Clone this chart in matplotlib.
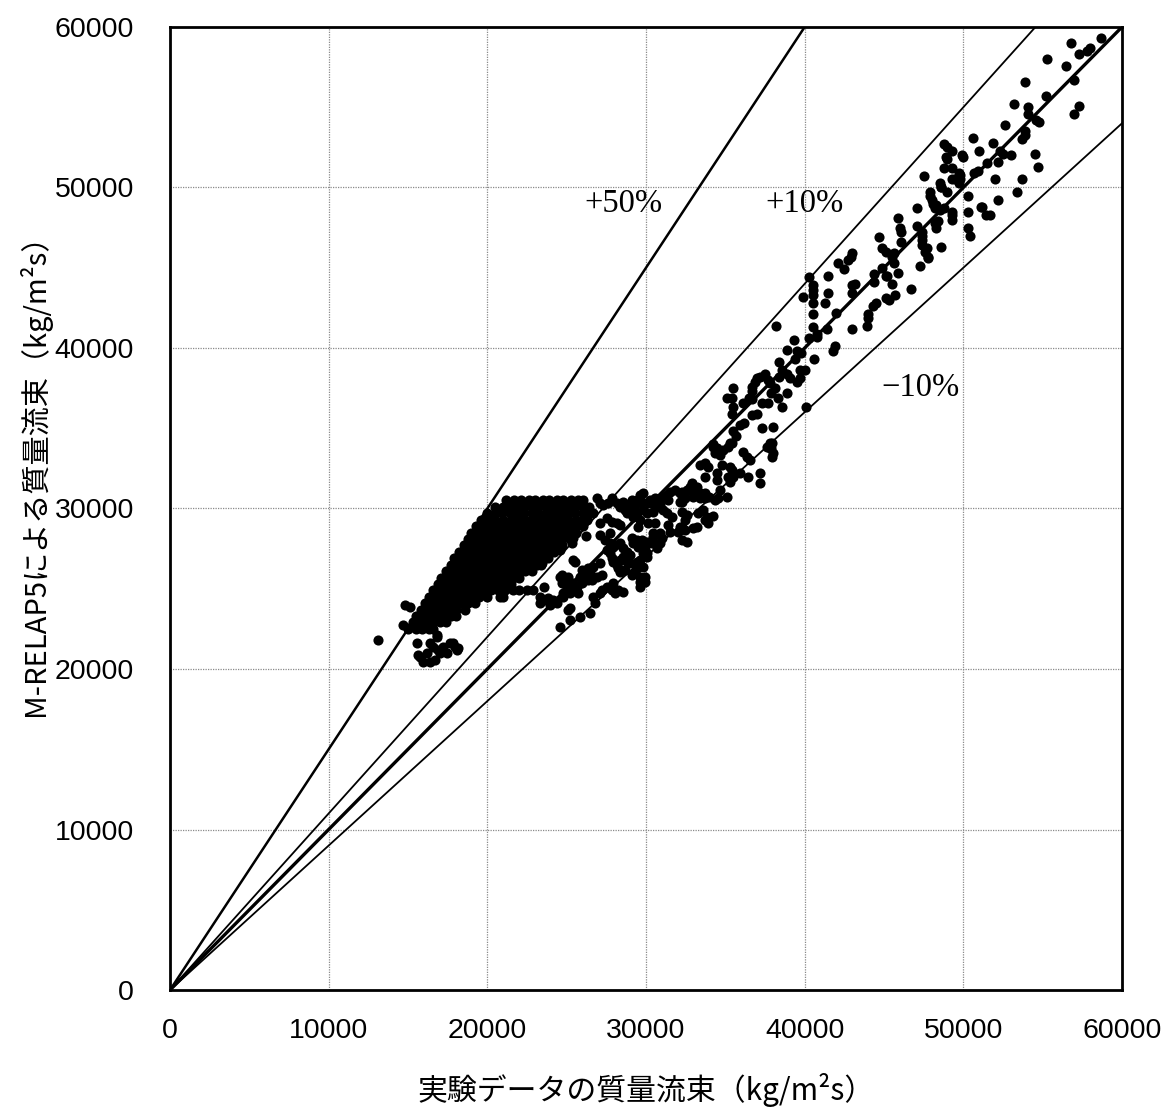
import matplotlib
matplotlib.use("Agg")
import matplotlib.pyplot as plt
import numpy as np

# ---------------- data (kg/m2s, values in thousands) ----------------
# dense cluster, listed row by row: calculated value of each row and experimental values on it
blob_row_calc = [30.5, 30.1, 29.7, 29.3, 28.9, 28.5, 28.1, 27.7, 27.3, 26.9, 26.5,
                 26.1, 25.7, 25.3, 24.9, 24.5, 24.1, 23.7, 23.3, 22.9, 22.5]
blob_row_exp = [
    [21.2, 21.7, 22.1, 22.6, 23.0, 23.5, 23.9, 24.4, 24.8, 25.3, 25.7, 26.0],
    [20.5, 21.0, 21.4, 21.9, 22.3, 22.8, 23.2, 23.7, 24.2, 24.6, 25.1, 25.5, 26.0, 26.4],
    [20.0, 20.5, 20.9, 21.4, 21.8, 22.3, 22.8, 23.2, 23.7, 24.1, 24.6, 25.0, 25.5, 26.0, 26.5],
    [19.6, 20.1, 20.5, 21.0, 21.5, 21.9, 22.4, 22.8, 23.3, 23.8, 24.2, 24.7, 25.1, 25.6, 26.0, 26.3],
    [19.3, 19.8, 20.2, 20.7, 21.1, 21.6, 22.1, 22.5, 23.0, 23.4, 23.9, 24.3, 24.8, 25.2, 25.6, 26.0],
    [19.0, 19.5, 19.9, 20.4, 20.8, 21.3, 21.8, 22.2, 22.7, 23.1, 23.6, 24.0, 24.5, 24.9, 25.3, 25.6],
    [18.8, 19.2, 19.7, 20.1, 20.6, 21.0, 21.5, 22.0, 22.4, 22.9, 23.3, 23.8, 24.2, 24.7, 25.2],
    [18.5, 18.9, 19.4, 19.8, 20.3, 20.8, 21.2, 21.7, 22.1, 22.6, 23.0, 23.5, 23.9, 24.3, 24.7],
    [18.2, 18.7, 19.1, 19.6, 20.0, 20.5, 20.9, 21.4, 21.9, 22.3, 22.8, 23.2, 23.7, 24.2],
    [17.9, 18.4, 18.8, 19.3, 19.7, 20.2, 20.6, 21.1, 21.6, 22.0, 22.5, 22.9, 23.4, 23.8],
    [17.7, 18.1, 18.6, 19.0, 19.5, 19.9, 20.4, 20.9, 21.3, 21.8, 22.2, 22.7, 23.1, 23.4],
    [17.4, 17.8, 18.3, 18.7, 19.2, 19.6, 20.1, 20.6, 21.0, 21.5, 21.9, 22.4, 22.8],
    [17.1, 17.6, 18.0, 18.5, 18.9, 19.4, 19.8, 20.3, 20.7, 21.2, 21.6, 22.0],
    [16.9, 17.3, 17.8, 18.2, 18.7, 19.1, 19.6, 20.0, 20.5, 21.0, 21.5],
    [16.6, 17.0, 17.5, 17.9, 18.4, 18.8, 19.3, 19.7, 20.2, 20.7, 21.1, 21.6, 22.0, 22.5, 22.9],
    [16.3, 16.8, 17.2, 17.7, 18.1, 18.6, 19.0, 19.5, 20.0, 20.8, 21.0],
    [16.1, 16.5, 17.0, 17.4, 17.9, 18.3, 18.8, 19.2],
    [15.8, 16.2, 16.7, 17.1, 17.6, 18.0, 18.6],
    [15.5, 16.0, 16.4, 16.9, 17.3, 17.7, 18.0],
    [15.3, 15.7, 16.2, 16.6, 17.0, 17.4],
    [15.0, 15.5, 15.9, 16.3, 16.6],
]
# extra points between rows of the cluster (irregular fill)
blob_fill_exp = [21.5, 22.9, 24.1, 25.4, 20.3, 22.0, 23.6, 25.0, 19.5, 21.2, 22.7, 24.4,
                 19.0, 20.5, 22.2, 23.8, 18.4, 20.0, 21.6, 23.1, 17.8, 19.4, 21.0, 22.6,
                 17.3, 18.9, 20.4, 16.8, 18.2, 19.8, 16.2, 17.6, 15.7, 16.9, 24.9, 26.2]
blob_fill_calc = [30.3, 30.3, 30.3, 30.3, 29.5, 29.5, 29.5, 29.5, 28.7, 28.7, 28.7, 28.7,
                  27.9, 27.9, 27.9, 27.9, 27.1, 27.1, 27.1, 27.1, 26.3, 26.3, 26.3, 26.3,
                  25.5, 25.5, 25.5, 24.7, 24.7, 24.7, 23.9, 23.9, 23.1, 23.1, 29.1, 28.3]

# low-flow tail and isolated points left of the cluster
low_exp = [15.55, 15.75, 15.95, 16.4, 16.55, 16.8, 16.9, 17.2, 17.45, 17.65, 17.95, 18.15,
           16.2, 16.7, 15.6, 16.4, 17.0, 17.85, 18.1, 16.8, 14.8, 15.1, 14.7, 15.0, 13.1]
low_calc = [21.6, 20.75, 20.45, 21.6, 21.35, 22.0, 21.2, 21.35, 21.0, 21.6, 21.35, 21.3,
            21.0, 20.55, 20.85, 20.45, 21.0, 21.6, 21.2, 22.1, 24.0, 23.85, 22.75, 22.55, 21.8]

# 23,000 - 35,000 range
mid_exp = [
    26.9, 27.3, 27.85, 27.6, 28.2, 28.55, 28.85, 29.1, 29.3, 29.6, 29.75, 30.25, 30.55, 31.0,
    31.3, 31.5, 31.4, 30.9, 31.8, 32.25, 32.45, 32.3, 32.9, 33.2, 32.95, 33.4, 33.7, 34.0,
    34.55, 35.1, 28.35, 28.8, 29.45, 29.8, 30.25, 26.65, 27.1,
    28.65, 29.0, 29.15, 29.45, 29.6, 29.5, 27.55, 27.85, 28.15, 28.35, 29.8, 30.05, 30.1,
    30.7, 30.45, 31.05, 31.3, 31.65, 32.3, 32.45, 33.25, 33.7, 33.9, 34.2, 31.4, 31.5, 32.0,
    32.15, 32.95, 30.9, 31.0, 30.9, 30.45, 30.35, 30.7, 32.3, 32.6, 29.95, 30.05, 27.1, 27.4,
    27.75, 28.05, 28.35, 29.1, 29.45, 29.75, 30.05, 28.55, 28.8, 29.0, 30.55, 30.45, 27.1,
    33.6, 33.85, 32.6, 32.25, 32.45, 33.2, 27.75, 29.15, 29.5, 29.8, 30.05, 29.6, 29.0, 29.45,
    28.55, 27.9, 28.35,
    27.55, 27.75, 27.85, 27.9, 28.15, 28.25, 28.35, 28.65, 28.8, 29.45, 29.8, 29.6, 29.6,
    29.6, 25.5, 25.1, 24.7, 25.0, 25.2, 25.5, 25.85, 26.15, 26.45, 26.6, 26.35, 27.2, 27.9,
    28.25, 28.05, 26.65, 27.1, 25.1, 29.1, 29.3, 24.55, 24.9, 25.4, 25.95, 26.65, 27.1, 26.9,
    29.95, 29.95, 28.55, 24.55, 25.2, 25.85, 26.45, 26.8, 27.55, 23.6, 23.95, 24.4, 24.75,
    23.45, 24.55, 25.4, 25.35, 25.4, 24.7, 23.3, 23.8, 24.15, 23.3, 25.65, 25.7, 23.6, 24.75,
    25.2, 25.95, 26.35, 27.2, 27.85, 24.05,
    34.2, 34.35, 34.65, 34.85, 35.15, 36.1, 36.35, 36.55, 37.95, 37.8, 38.0, 37.95, 33.4,
    33.7, 33.9, 34.8, 35.3, 35.4, 34.45, 35.15, 35.3, 35.9, 36.4, 37.2, 37.2, 33.7, 35.3,
    37.6, 33.7, 32.9, 32.75, 32.6, 33.4, 32.15, 32.15, 34.35, 35.5, 34.65, 34.45,
]
mid_calc = [
    30.65, 30.2, 30.65, 30.35, 30.35, 30.4, 30.2, 30.5, 30.2, 30.85, 30.4, 30.5, 30.65, 30.7,
    30.85, 31.0, 30.5, 30.2, 31.15, 31.0, 30.65, 30.4, 31.15, 31.35, 30.7, 30.65, 30.65, 30.7,
    30.65, 30.7, 30.1, 29.7, 30.5, 30.95, 30.35, 29.7, 30.35,
    29.9, 29.8, 29.45, 29.7, 29.3, 28.85, 29.4, 29.15, 29.1, 28.95, 29.9, 29.7, 29.1,
    30.1, 29.8, 29.9, 29.7, 29.45, 29.8, 29.3, 29.7, 29.3, 29.1, 29.55, 28.95, 28.55, 28.55,
    28.85, 28.8, 28.45, 28.15, 27.85, 28.2, 27.85, 27.55, 28.05, 27.9, 27.6, 27.25, 28.35, 28.05,
    27.85, 27.75, 27.85, 28.15, 28.05, 28.05, 27.9, 27.55, 27.3, 27.1, 29.1, 28.45, 29.1,
    29.9, 29.45, 29.6, 28.85, 28.65, 28.85, 28.45, 27.85, 27.6, 27.25, 27.0, 26.8, 26.6, 26.3,
    27.0, 27.6, 26.8,
    27.4, 27.25, 26.9, 26.65, 26.5, 26.3, 26.05, 26.15, 26.65, 26.65, 26.35, 25.75, 25.4,
    25.1, 26.65, 25.75, 25.35, 25.05, 24.75, 24.9, 25.75, 26.0, 26.05, 25.55, 26.3, 25.85, 25.35,
    24.9, 24.75, 24.5, 24.75, 23.7, 25.85, 26.05, 25.75, 25.55, 25.35, 26.15, 26.35, 26.6, 25.75,
    25.75, 25.4, 24.8, 22.6, 23.05, 23.25, 23.5, 24.1, 25.1, 24.3, 24.0, 24.1, 24.5,
    26.6, 27.4, 28.15, 27.85, 26.8, 25.85, 24.5, 24.4, 24.3, 24.1, 25.1, 24.75, 25.1, 24.75,
    23.8, 25.35, 25.55, 24.9, 24.9, 28.2,
    33.85, 33.45, 33.35, 33.65, 33.85, 33.5, 33.2, 33.0, 34.1, 33.75, 33.45, 33.2, 32.7,
    32.85, 32.6, 32.7, 32.6, 32.4, 32.2, 31.95, 31.65, 32.2, 31.95, 32.2, 31.6, 30.95, 34.1,
    33.85, 31.95, 31.6, 31.35, 31.15, 30.95, 30.95, 30.4, 30.5, 31.95, 31.15, 31.8,
]

# 34,000 - 46,000 range
upper_exp = [
    45.1, 47.6, 47.8, 44.4, 43.0, 42.9, 42.7, 42.1, 42.5, 41.5, 43.0, 43.2, 43.0, 41.5, 41.3,
    40.5, 40.5, 40.5, 40.3, 39.9, 42.0, 40.5, 40.5, 40.5, 40.8, 40.8, 40.3, 41.4, 43.0, 43.9,
    44.0, 45.1, 39.3, 38.9, 39.5, 39.8, 39.4, 39.7, 40.0, 40.6, 41.9, 41.8, 38.4, 38.6, 38.4,
    38.9, 39.1, 39.5, 39.7, 38.2, 37.5, 37.2, 36.9, 37.0, 37.7, 37.8, 38.1, 37.9, 38.9, 38.3,
    36.7, 36.7, 36.5, 35.5, 35.1, 35.4, 35.5, 35.4, 36.1, 36.7, 36.7, 37.0, 37.3, 37.7, 38.6,
    40.1, 35.9, 36.2, 35.5, 35.4, 35.7, 37.3, 38.0, 37.8, 37.9, 34.2, 34.5,
]
upper_calc = [
    46.0, 46.0, 45.6, 44.1, 45.9, 45.7, 45.5, 45.3, 44.9, 44.5, 43.9, 44.0, 43.4, 43.4, 42.8,
    43.9, 43.6, 43.3, 44.4, 43.2, 42.2, 42.8, 42.1, 41.3, 40.9, 40.7, 40.6, 41.2, 41.2, 41.4,
    41.9, 43.1, 40.5, 39.9, 39.8, 39.7, 39.3, 38.6, 38.6, 39.3, 40.1, 39.8, 39.1, 38.6, 38.2,
    38.4, 38.1, 37.9, 38.1, 41.4, 38.4, 38.2, 37.9, 38.1, 38.0, 37.8, 37.5, 37.2, 37.2, 36.9,
    37.6, 37.3, 36.9, 37.5, 36.9, 36.9, 36.3, 35.9, 36.6, 36.8, 35.8, 35.9, 36.6, 36.6, 36.3,
    36.3, 35.2, 35.3, 34.8, 34.1, 34.5, 35.0, 35.1, 34.1, 33.8, 34.0, 33.8,
]

# 44,000 - 59,000 range
top_exp = [
    58.7, 56.8, 58.0, 57.8, 57.3, 55.3, 56.5, 57.0, 53.9, 55.2, 53.2, 54.1, 54.1, 57.3, 57.0,
    54.6, 54.8, 52.6, 53.9, 53.9, 53.7, 50.6, 51.9, 48.8, 49.0, 49.3, 51.0, 52.3, 52.5, 54.5,
    49.9, 48.9, 53.0, 51.5, 52.2, 48.8, 49.3, 54.7, 50.7, 49.8, 49.8, 49.3, 52.0, 53.7, 48.6,
    49.0, 50.3, 53.4, 52.2, 48.8, 49.3, 49.3, 50.3, 51.1, 51.4, 51.7,
    50.0, 49.0, 49.7, 49.5, 49.7, 50.9, 47.5, 48.5, 48.6, 47.9, 47.9, 48.0, 48.1, 48.2, 47.1,
    48.3, 48.5, 51.2, 49.3, 45.9, 46.0, 46.1, 47.1, 47.4, 47.4, 48.3, 48.2, 48.4, 50.3, 50.4,
    44.7, 44.9, 46.1, 47.4, 47.4, 47.7, 47.8, 48.6, 45.6, 45.5, 44.9, 45.1, 45.2, 47.3, 45.6,
    44.4, 45.5, 45.9, 46.7, 45.7, 45.3, 44.5, 44.3, 44.0,
]
top_calc = [
    59.3, 59.0, 58.7, 58.5, 58.3, 58.0, 57.6, 56.7, 56.6, 55.7, 55.2, 55.0, 54.6, 55.1, 54.6,
    54.2, 54.1, 53.9, 53.5, 53.3, 53.0, 53.1, 52.8, 52.7, 52.5, 52.3, 52.3, 52.3, 52.1, 52.1,
    52.0, 51.9, 52.0, 51.5, 51.6, 51.2, 51.2, 51.3, 50.9, 50.8, 50.5, 50.5, 50.5, 50.5, 50.0,
    49.7, 49.5, 49.7, 49.2, 48.7, 48.5, 48.0, 48.5, 48.8, 48.3, 48.3,
    51.9, 51.8, 50.9, 50.5, 50.3, 51.0, 50.7, 50.3, 50.0, 49.7, 49.5, 49.2, 49.0, 48.7, 48.7,
    48.9, 48.6, 48.8, 48.3, 48.1, 47.5, 47.2, 47.6, 47.2, 47.0, 47.5, 47.8, 47.9, 47.5, 47.0,
    46.9, 46.2, 46.6, 46.7, 46.4, 46.2, 45.7, 46.3, 45.9, 45.7, 45.0, 44.5, 44.5, 45.1, 45.3,
    44.6, 44.0, 44.7, 43.7, 43.3, 43.0, 42.8, 42.6, 42.1,
]

ratio_lines = [1.5, 1.1, 1.0, 0.9]
ratio_widths = [1.8, 1.3, 2.4, 1.3]
ratio_labels = ["+50%", "+10%", "\u221210%"]
label_pos_exp = [28.6, 40.0, 47.3]
label_pos_calc = [49.0, 49.0, 37.5]

ticks = [0, 10000, 20000, 30000, 40000, 50000, 60000]
xlabel = "実験データの質量流束（kg/m²s）"
ylabel = "M-RELAP5による質量流束（kg/m²s）"

# ---------------- assemble ----------------
exp_all = []
calc_all = []
for yc, xs in zip(blob_row_calc, blob_row_exp):
    exp_all += xs
    calc_all += [yc] * len(xs)
for ex, ca in [(blob_fill_exp, blob_fill_calc), (low_exp, low_calc), (mid_exp, mid_calc),
               (upper_exp, upper_calc), (top_exp, top_calc)]:
    exp_all += ex
    calc_all += ca
exp_all = np.array(exp_all) * 1000.0
calc_all = np.array(calc_all) * 1000.0

# ---------------- plot ----------------
fig = plt.figure(figsize=(11.62, 11.20), dpi=100)
ax = fig.add_axes([170 / 1162, 1 - 990 / 1120, 952 / 1162, 963 / 1120])

ax.set_xlim(0, 60000)
ax.set_ylim(0, 60000)
ax.set_xticks(ticks)
ax.set_yticks(ticks)
ax.set_xticklabels([str(t) for t in ticks], fontsize=20.5, family="Liberation Sans")
ax.set_yticklabels([str(t) for t in ticks], fontsize=20.5, family="Liberation Sans")
ax.tick_params(axis="both", length=0)
ax.tick_params(axis="x", pad=20)
ax.tick_params(axis="y", pad=26)
ax.grid(True, color="#8a8a8a", linestyle=(0, (1, 1)), linewidth=0.9)
ax.set_axisbelow(True)
for sp in ax.spines.values():
    sp.set_linewidth(2.0)
    sp.set_color("black")

xe = np.array([0, 60000])
for r, lw in zip(ratio_lines, ratio_widths):
    ax.plot(xe, xe * r, color="black", linewidth=lw, zorder=2)

ax.plot(exp_all, calc_all, "o", color="black", markersize=7.3, markeredgewidth=0, zorder=3)

for t, xp, yp in zip(ratio_labels, label_pos_exp, label_pos_calc):
    ax.text(xp * 1000, yp * 1000, t, fontsize=23.5, ha="center", va="center",
            family=["Liberation Serif", "DejaVu Serif"], zorder=4)

fig.text(646 / 1162, 1 - 1090 / 1120, xlabel, ha="center", va="center", fontsize=21.5,
         family=["Noto Sans CJK JP", "DejaVu Sans"])
fig.text(35 / 1162, 1 - 468 / 1120, ylabel, ha="center", va="center", rotation=90,
         fontsize=21, family=["Noto Sans CJK JP", "DejaVu Sans"])

fig.savefig("out.png", dpi=100)
